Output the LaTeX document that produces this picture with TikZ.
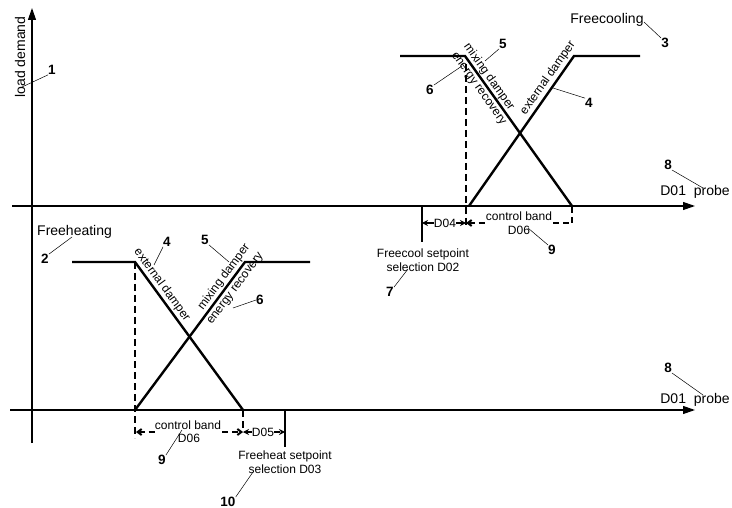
\documentclass[tikz,border=0pt]{standalone}
\usepackage{fontspec}
\setmainfont{Liberation Sans}
\usetikzlibrary{arrows.meta}
\begin{document}
\begin{tikzpicture}[x=1pt,y=-1pt,
  axisline/.style={line width=1.2pt},
  probeline/.style={line width=2.4pt},
  curve/.style={line width=2.4pt},
  dashv/.style={line width=2pt, dash pattern=on 7pt off 4pt},
  dimline/.style={line width=2pt, dash pattern=on 6pt off 4pt},
  leader/.style={line width=0.5pt},
  num/.style={font=\fontsize{13.5}{15}\selectfont\bfseries, inner sep=0pt},
  lbl/.style={font=\fontsize{12}{14}\selectfont, inner sep=0pt},
  big/.style={font=\fontsize{14}{16}\selectfont, inner sep=0pt},
  bigtip/.style={-{Triangle[length=12pt,width=8pt]}},
  dimtip/.style={-{Stealth[length=6pt,width=6pt]}}
]
\useasboundingbox (0,0) rectangle (732,508);
% axes
\coordinate (vb) at (32,443); \coordinate (vt) at (32,8);
\draw[axisline,bigtip] (vb) -- (vt);
\coordinate (ua0) at (12,206); \coordinate (ua1) at (695,206);
\draw[axisline,bigtip] (ua0) -- (ua1);
\coordinate (la0) at (10,410); \coordinate (la1) at (695,410);
\draw[axisline,bigtip] (la0) -- (la1);
\coordinate (up0) at (403,206); \coordinate (up1) at (635,206);
\draw[probeline] (up0) -- (up1);
\coordinate (lp0) at (73,410); \coordinate (lp1) at (373,410);
\draw[probeline] (lp0) -- (lp1);

% upper curves (Freecooling)
\coordinate (U1) at (400,56); \coordinate (U2) at (465,56); \coordinate (U3) at (572,206);
\coordinate (U4) at (469,206); \coordinate (U5) at (574,56); \coordinate (U6) at (640,56);
\draw[curve] (U1) -- (U2) -- (U3);
\draw[curve] (U4) -- (U5) -- (U6);
\coordinate (ud0) at (466,64); \coordinate (ud1) at (466,226);
\draw[dashv] (ud0) -- (ud1);
\coordinate (ur0) at (572,206); \coordinate (ur1) at (572,223);
\draw[dashv] (ur0) -- (ur1);

% lower curves (Freeheating)
\coordinate (L1) at (72,262); \coordinate (L2) at (135,262); \coordinate (L3) at (243,410);
\coordinate (L4) at (135,410); \coordinate (L5) at (245,262); \coordinate (L6) at (310,262);
\draw[curve] (L1) -- (L2) -- (L3);
\draw[curve] (L4) -- (L5) -- (L6);
\coordinate (ld0) at (135,262); \coordinate (ld1) at (135,438);
\draw[dashv] (ld0) -- (ld1);
\coordinate (lr0) at (243,410); \coordinate (lr1) at (243,432);
\draw[dashv] (lr0) -- (lr1);

% setpoint ticks
\coordinate (fc0) at (422,206); \coordinate (fc1) at (422,242);
\draw[line width=1.4pt] (fc0) -- (fc1);
\coordinate (fh0) at (285,410); \coordinate (fh1) at (285,447);
\draw[line width=1.4pt] (fh0) -- (fh1);

% upper dimension lines
\node[lbl] (d04) at (445,223) {D04};
\coordinate (d04l) at (422,223); \coordinate (d04r) at (466,223);
\draw[line width=1.4pt,dimtip] (d04.west) -- (d04l);
\draw[dimline,dimtip] (d04.east) -- (d04r);
\node[lbl] (cbu) at (519,216) {control band};
\node[lbl] (d06u) at (519,230) {D06};
\coordinate (cbu0) at (466,223); \coordinate (cbu1) at (486,223);
\coordinate (cbu2) at (553,223); \coordinate (cbu3) at (572,223);
\draw[dimline,{Straight Barb[length=4pt,width=6pt]}-] (cbu0) -- (cbu1);
\draw[dimline] (cbu2) -- (cbu3);

% lower dimension lines
\node[lbl] (cbl) at (188,425) {control band};
\node[lbl] (d06l) at (189,438) {D06};
\coordinate (cbl0) at (136,432); \coordinate (cbl1) at (156,432);
\coordinate (cbl2) at (222,432); \coordinate (cbl3) at (243,432);
\draw[dimline,{Straight Barb[length=4pt,width=6pt]}-] (cbl0) -- (cbl1);
\draw[dimline,-{Straight Barb[length=4pt,width=6pt]}] (cbl2) -- (cbl3);
\node[lbl] (d05) at (263,432) {D05};
\coordinate (d05l) at (243,432); \coordinate (d05r) at (285,432);
\draw[line width=1.4pt,dimtip] (d05.west) -- (d05l);
\draw[dimline,dimtip] (d05.east) -- (d05r);

% setpoint texts
\node[lbl,align=center] (fct) at (423,260) {Freecool setpoint\\selection D02};
\node[lbl,align=center] (fht) at (285,462) {Freeheat setpoint\\selection D03};

% rotated curve labels
\node[lbl,rotate=-54.5] (mdu) at (489,77) {mixing damper};
\node[lbl,rotate=-54.5] (eru) at (478,89) {energy recovery};
\node[lbl,rotate=55] (edu) at (548,78) {external damper};
\node[lbl,rotate=-53.9] (edl) at (162,285) {external damper};
\node[lbl,rotate=53.4] (mdl) at (224,277) {mixing damper};
\node[lbl,rotate=53.4] (erl) at (236,289) {energy recovery};

% titles
\node[big,rotate=90] (ld) at (20,57) {load demand};
\node[big] (fcool) at (607,20) {Freecooling};
\node[big,anchor=west] (fheat) at (37,232) {Freeheating};
\node[big] (pu) at (695,192) {D01\ \ probe};
\node[big] (pl) at (695,400) {D01\ \ probe};

% numbers with leaders
\node[num] (n1) at (52,70) {1};
\coordinate (n1e) at (22,87); \draw[leader] (n1.south west) -- (n1e);
\node[num] (n2) at (45,259) {2};
\coordinate (n2e) at (72,237); \draw[leader] (n2.north east) -- (n2e);
\node[num] (n3) at (665,43) {3};
\coordinate (n3e) at (644,22); \draw[leader] (n3.north west) -- (n3e);
\node[num] (n4u) at (589,103) {4};
\coordinate (n4ue) at (553,88); \draw[leader] (n4u.north west) -- (n4ue);
\node[num] (n5u) at (503,44) {5};
\coordinate (n5ue) at (485,61); \draw[leader] (n5u.south west) -- (n5ue);
\node[num] (n6u) at (430,90) {6};
\coordinate (n6ue) at (462,66); \draw[leader] (n6u.north east) -- (n6ue);
\node[num] (n7) at (390,292) {7};
\coordinate (n7e) at (408,269); \draw[leader] (n7.north east) -- (n7e);
\node[num] (n8u) at (668,165) {8};
\coordinate (n8ue) at (703,188); \draw[leader] (n8u.south east) -- (n8ue);
\node[num] (n9u) at (552,250) {9};
\coordinate (n9ue) at (528,228); \draw[leader] (n9u.north west) -- (n9ue);
\node[num] (n8l) at (668,368) {8};
\coordinate (n8le) at (703,395); \draw[leader] (n8l.south east) -- (n8le);
\node[num] (n4l) at (167,242) {4};
\coordinate (n4le) at (154,265); \draw[leader] (n4l.south west) -- (n4le);
\node[num] (n5l) at (205,240) {5};
\coordinate (n5le) at (229,262); \draw[leader] (n5l.south east) -- (n5le);
\node[num] (n6l) at (260,300) {6};
\coordinate (n6le) at (233,308); \draw[leader] (n6l.west) -- (n6le);
\node[num] (n9l) at (162,460) {9};
\coordinate (n9le) at (182,430); \draw[leader] (n9l.north east) -- (n9le);
\node[num] (n10) at (228,502) {10};
\coordinate (n10e) at (253,472); \draw[leader] (n10.north east) -- (n10e);
\end{tikzpicture}
\end{document}
